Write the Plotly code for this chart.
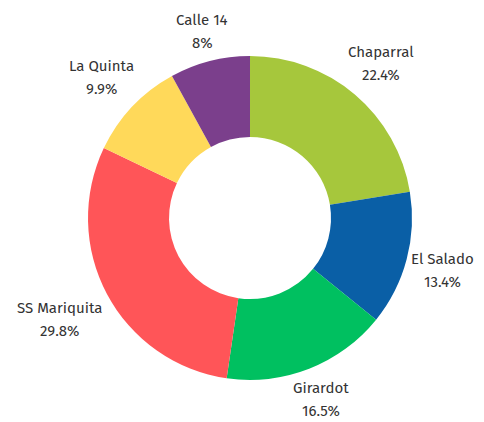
import math
import plotly.graph_objects as go

labels = ["Chaparral", "El Salado", "Girardot", "SS Mariquita", "La Quinta", "Calle 14"]
values = [22.4, 13.4, 16.5, 29.8, 9.9, 8.0]
colors = ["#a6c73c", "#0a5fa6", "#00c060", "#ff5558", "#ffd95a", "#7b3f8c"]

W, H = 468, 414            # page adds an 8px body margin
cx, cy, r = 242, 210, 162
FONT = "Fira Sans, Noto Sans, sans-serif"
FS = 15

fig = go.Figure(go.Pie(
    labels=labels,
    values=values,
    hole=0.5,
    sort=False,
    direction="clockwise",
    rotation=0,
    marker=dict(colors=colors, line=dict(width=0)),
    textinfo="none",
    hoverinfo="label+percent",
    domain=dict(x=[(cx - r) / W, (cx + r) / W], y=[1 - (cy + r) / H, 1 - (cy - r) / H]),
    showlegend=False,
))

total = sum(values)
cum = 0.0
annotations = []
R0 = r + 9
for lab, v in zip(labels, values):
    mid = (cum + v / 2) / total * 2 * math.pi
    cum += v
    s, c = math.sin(mid), math.cos(mid)
    pct = f"{round(v / total * 100, 1):g}%"
    hw = max(len(lab), len(pct)) * 7.1 / 2
    hh = 15
    d = R0 + abs(s) * hw + abs(c) * hh
    px, py = cx + d * s, cy - d * c
    px = min(px, W - 2 - hw)
    py = min(py, H - 18.5)
    for txt, dy in ((lab, -11.5), (pct, 11.5)):
        annotations.append(dict(
            x=px / W, y=1 - (py + dy) / H, xref="paper", yref="paper",
            text=txt, showarrow=False, xanchor="center", yanchor="middle",
            font=dict(family=FONT, size=FS, color="#333333"),
        ))

fig.update_layout(
    width=W, height=H,
    margin=dict(l=0, r=0, t=0, b=0),
    paper_bgcolor="white",
    annotations=annotations,
)
fig.write_html("out.html")
